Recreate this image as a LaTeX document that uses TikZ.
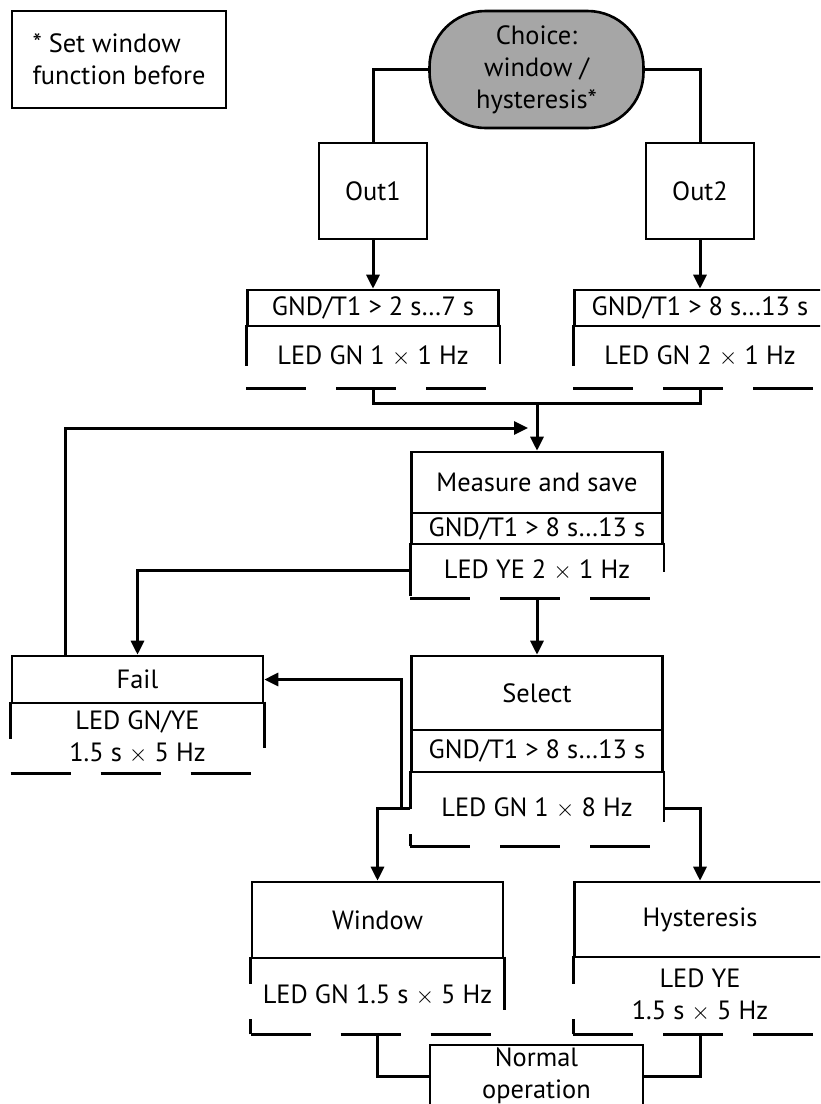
\documentclass[tikz,border=0pt]{standalone}
\usepackage{fontspec}
\setmainfont{PT Sans}
\usepackage{tikz}
\usetikzlibrary{arrows.meta}

\begin{document}
\begin{tikzpicture}[
                x = 0.5pt, y = -0.5pt,
                > = {Triangle[length=7pt, width=6.5pt]},
                line width = 1.3pt,
                font = \fontsize{13.2}{16}\selectfont,
                box/.style={ rectangle, draw = black, inner sep = 0pt, align = center, minimum width = 125.5pt },
                open/.style={ rectangle, inner sep = 0pt, align = center, minimum width = 125.5pt },
                choice/.style={ rectangle, rounded corners = 28pt, draw = black, fill = black!35, inner sep = 0pt,
                                align = center, minimum width = 107pt, minimum height = 58.5pt },
                wire/.style={ line width = 1.5pt },
                flow/.style={ ->, line width = 1.5pt }
            ]
            \useasboundingbox (0, 0) rectangle (820, 1104);
            \clip (0, 0) rectangle (820, 1104);

            \node (note)   [box, align = left, minimum width = 107pt, minimum height = 48.5pt] at (119, 59.5) {* Set window\\function before};
            \node (choice) [choice] at (536.5, 69.5) {Choice:\\window /\\hysteresis*};
            \node (out1)   [box, minimum width = 54pt, minimum height = 48pt] at (373, 191) {Out1};
            \node (out2)   [box, minimum width = 54pt, minimum height = 48pt] at (700, 191) {Out2};

            \node (gnd1) [box, minimum height = 18pt]    at (373, 308)   {GND/T1 > 2 s…7 s};
            \node (led1) [open, minimum height = 30.5pt] at (373, 356.5) {LED GN 1 $\times$ 1 Hz};
            \node (gnd2) [box, minimum height = 18pt]    at (700, 308)   {GND/T1 > 8 s…13 s};
            \node (led2) [open, minimum height = 30.5pt] at (700, 356.5) {LED GN 2 $\times$ 1 Hz};

            \node (meas) [box, minimum height = 30.5pt]  at (537, 482.5) {Measure and save};
            \node (mgnd) [box, minimum height = 15.5pt]  at (537, 528.5) {GND/T1 > 8 s…13 s};
            \node (mled) [open, minimum height = 26.5pt] at (537, 570.5) {LED YE 2 $\times$ 1 Hz};

            \node (fail) [box, minimum height = 23.5pt]  at (137.5, 679.5) {Fail};
            \node (fled) [open, minimum height = 34.5pt] at (137.5, 737.5) {LED GN/YE\\1.5 s $\times$ 5 Hz};

            \node (sel)  [box, minimum height = 37pt]    at (537, 693)   {Select};
            \node (sgnd) [box, minimum height = 21pt]    at (537, 751)   {GND/T1 > 8 s…13 s};
            \node (sled) [open, minimum height = 36.5pt] at (537, 808.5) {LED GN 1 $\times$ 8 Hz};

            \node (win)  [box, minimum height = 38pt]    at (377.5, 920)   {Window};
            \node (wled) [open, minimum height = 37.5pt] at (377.5, 995.5) {LED GN 1.5 s $\times$ 5 Hz};
            \node (hyst) [box, minimum height = 37.5pt]  at (700, 919.5) {Hysteresis};
            \node (hled) [open, minimum height = 38pt]   at (700, 995)   {LED YE\\1.5 s $\times$ 5 Hz};

            \node (normal) [box, minimum width = 106.5pt, minimum height = 31pt] at (536.5, 1076) {Normal\\operation};

            % open lower parts
            \foreach \ledn/\lft/\rgt/\crn in {led1/41/39/0, led2/41/39/0, mled/53/29/0, fled/37/46/0,
                                              sled/38/51/12, wled/27/53/15, hled/28/53/15} {
                \draw (\ledn.north west) -- ++(0, \lft);
                \draw (\ledn.north east) -- ++(0, \rgt);
                \draw (\ledn.south west) -- ++(0, -\crn);
                \draw [dash pattern = on 30pt off 15pt] (\ledn.south west) -- (\ledn.south east);
            }

            \coordinate (merge) at (537, 403);
            \coordinate (back)  at (528, 428);

            \draw [wire] (choice.west) -| (out1.north);
            \draw [wire] (choice.east) -| (out2.north);
            \draw [flow] (out1) -- (gnd1);
            \draw [flow] (out2) -- (gnd2);
            \draw [wire] (led1.south) |- (merge);
            \draw [wire] (led2.south) |- (merge);
            \draw [flow] (merge) -- (meas);
            \draw [flow] ([xshift=27.5pt]fail.north west) |- (back);
            \draw [flow] (mled.west) -| (fail.north);
            \draw [flow] (mled) -- (sel);
            \draw [flow] (sled.west) -- ++(-9, 0) |- (fail.east);
            \draw [flow] (sled.west) -| (win.north);
            \draw [flow] (sled.east) -| (hyst.north);
            \draw [wire] (wled.south) |- (normal.west);
            \draw [wire] (hled.south) |- (normal.east);
        \end{tikzpicture}
\end{document}
